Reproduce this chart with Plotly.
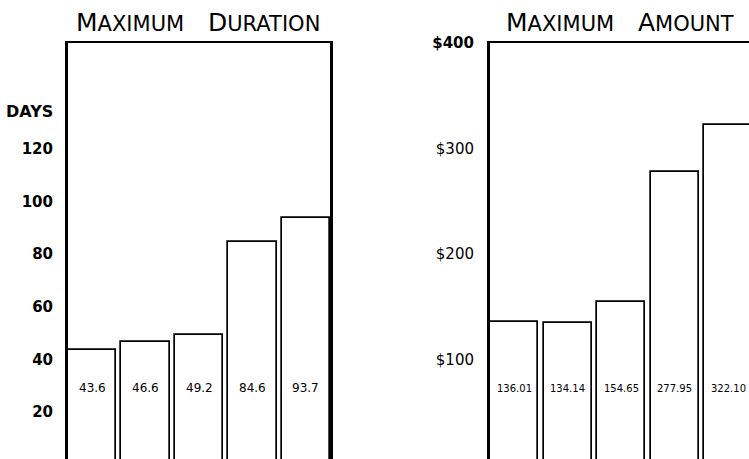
import plotly.graph_objects as go

# ---- data ----
categories = ["1", "2", "3", "4", "5"]
duration_days = [43.6, 46.6, 49.2, 84.6, 93.7]
duration_labels = ["43.6", "46.6", "49.2", "84.6", "93.7"]
amount_dollars = [136.01, 134.14, 154.65, 277.95, 322.10]
amount_labels = ["136.01", "134.14", "154.65", "277.95", "322.10"]
duration_ticks = [20, 40, 60, 80, 100, 120]
duration_ticktext = ["20", "40", "60", "80", "100", "120"]
amount_ticks = [100, 200, 300, 400]
amount_ticktext = ["$100", "$200", "$300", "<b>$400</b>"]

W, H = 749, 459
FONT = "DejaVu Sans"

fig = go.Figure()
xi = list(range(len(categories)))

fig.add_trace(go.Bar(x=xi, y=duration_days, width=0.9, xaxis="x", yaxis="y",
                     marker=dict(color="white", line=dict(color="black", width=1.7)),
                     hoverinfo="skip", showlegend=False))
fig.add_trace(go.Bar(x=xi, y=amount_dollars, width=0.9, xaxis="x2", yaxis="y2",
                     marker=dict(color="white", line=dict(color="black", width=1.7)),
                     hoverinfo="skip", showlegend=False))

TOP = 43
PLOT_H = H - TOP


def py(screen_y):
    return (H - screen_y) / PLOT_H


def px(screen_x):
    return screen_x / W


annotations = []
lab_y = py(388)
for i, t in enumerate(duration_labels):
    annotations.append(dict(x=i, y=lab_y, xref="x", yref="y domain", text=t,
                            xanchor="center", yanchor="middle",
                            showarrow=False, font=dict(family=FONT, size=12, color="black")))
for i, t in enumerate(amount_labels):
    annotations.append(dict(x=i, y=lab_y, xref="x2", yref="y2 domain", text=t,
                            xanchor="center", yanchor="middle",
                            showarrow=False, font=dict(family=FONT, size=10, color="black")))

big, small = 25, 21


def smallcaps(words):
    parts = []
    for w in words:
        parts.append(w[0] + "<span style='font-size:%dpx'>%s</span>" % (small, w[1:]))
    return "\u00a0\u00a0\u00a0".join(parts)


title_y = py(22)
annotations.append(dict(x=px(198), y=title_y, xref="paper", yref="paper",
                        xanchor="center", yanchor="middle",
                        text=smallcaps(["MAXIMUM", "DURATION"]), showarrow=False,
                        font=dict(family=FONT, size=big, color="black")))
annotations.append(dict(x=px(620), y=title_y, xref="paper", yref="paper",
                        xanchor="center", yanchor="middle",
                        text=smallcaps(["MAXIMUM", "AMOUNT"]), showarrow=False,
                        font=dict(family=FONT, size=big, color="black")))
annotations.append(dict(x=px(55), y=py(112), xref="paper", yref="paper",
                        xanchor="right", yanchor="middle", text="<b>DAYS</b>", showarrow=False,
                        font=dict(family=FONT, size=16, color="black")))

fig.update_layout(
    width=W, height=H,
    margin=dict(l=0, r=0, t=TOP, b=0),
    paper_bgcolor="white", plot_bgcolor="white",
    bargap=0,
    annotations=annotations,
    xaxis=dict(domain=[px(68), px(330)], range=[-0.45, 4.45], side="top",
               showline=True, linecolor="black", linewidth=2, showticklabels=False,
               showgrid=False, zeroline=False, ticks=""),
    yaxis=dict(range=[2.27, 160], tickvals=duration_ticks, ticktext=duration_ticktext,
               showline=True, mirror=True, linecolor="black", linewidth=3,
               showgrid=False, zeroline=False, ticks="", ticklabelstandoff=9,
               tickfont=dict(family=FONT, size=15, color="black", weight="bold")),
    xaxis2=dict(domain=[px(490), 1.0], range=[-0.45, 4.39], side="top",
                anchor="y2",
                showline=True, linecolor="black", linewidth=2, showticklabels=False,
                showgrid=False, zeroline=False, ticks=""),
    yaxis2=dict(range=[5.7, 400], tickvals=amount_ticks, ticktext=amount_ticktext,
                anchor="x2",
                showline=True, mirror=False, linecolor="black", linewidth=3,
                showgrid=False, zeroline=False, ticks="", ticklabelstandoff=10,
                tickfont=dict(family=FONT, size=15, color="black")),
)

fig.write_html(
    "out.html",
    config={"displayModeBar": False},
    post_script="document.body.style.margin='0';document.body.style.overflow='hidden';",
)
